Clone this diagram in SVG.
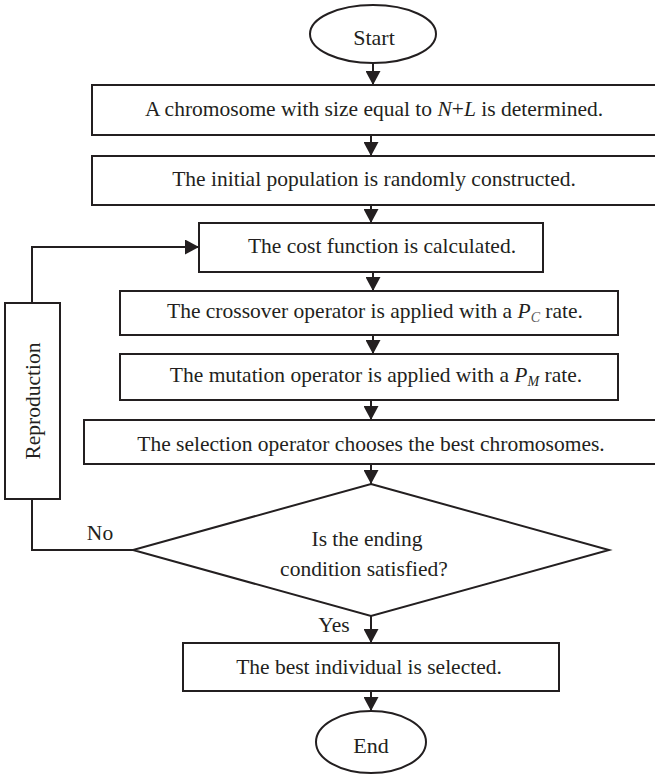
<svg xmlns="http://www.w3.org/2000/svg" width="655" height="777" viewBox="0 0 655 777">
<style>
.s{fill:#fff;stroke:#231f20;stroke-width:2}
.t{font-family:"Liberation Serif","Times New Roman",serif;font-size:21.5px;fill:#231f20;text-anchor:middle}
.i{font-style:italic}
.c{fill:none;stroke:#231f20;stroke-width:2}
</style>
<defs>
<marker id="ah" markerUnits="userSpaceOnUse" markerWidth="15" markerHeight="15" viewBox="0 0 14 15" refX="14" refY="7.5" orient="auto">
<path d="M0,0 L14,7.5 L0,15 z" fill="#231f20"/>
</marker>
</defs>
<rect width="655" height="777" fill="#fff"/>
<g id="connectors">
<path class="c" d="M373,63 V85" marker-end="url(#ah)"/>
<path class="c" d="M371,135 V156" marker-end="url(#ah)"/>
<path class="c" d="M371,205 V223" marker-end="url(#ah)"/>
<path class="c" d="M373,272 V291" marker-end="url(#ah)"/>
<path class="c" d="M373,335 V354" marker-end="url(#ah)"/>
<path class="c" d="M371,400 V420" marker-end="url(#ah)"/>
<path class="c" d="M371,464 V484" marker-end="url(#ah)"/>
<path class="c" d="M371,616 V643" marker-end="url(#ah)"/>
<path class="c" d="M371,691 V711" marker-end="url(#ah)"/>
<path class="c" d="M133,550 H32 V499"/>
<path class="c" d="M32,303 V247 H199" marker-end="url(#ah)"/>
<text class="t" x="100" y="540">No</text>
<text class="t" x="334" y="632">Yes</text>
</g>
<g id="start">
<ellipse class="s" cx="373" cy="34" rx="63" ry="29"/>
<text class="t" x="374" y="45" style="font-size:22px">Start</text>
</g>
<g id="chromosome">
<rect class="s" x="92" y="85" width="566" height="50"/>
<text class="t" x="374" y="116">A chromosome with size equal to <tspan class="i">N</tspan>+<tspan class="i">L</tspan> is determined.</text>
</g>
<g id="init">
<rect class="s" x="92" y="156" width="566" height="49"/>
<text class="t" x="374" y="186">The initial population is randomly constructed.</text>
</g>
<g id="cost">
<rect class="s" x="199" y="223" width="344" height="49"/>
<text class="t" x="382" y="253">The cost function is calculated.</text>
</g>
<g id="crossover">
<rect class="s" x="120" y="291" width="498" height="44"/>
<text class="t" x="375" y="318">The crossover operator is applied with a <tspan class="i">P</tspan><tspan class="i" font-size="14" dy="4" fill="#555">C</tspan><tspan dy="-4"> rate.</tspan></text>
</g>
<g id="mutation">
<rect class="s" x="120" y="354" width="498" height="46"/>
<text class="t" x="376" y="382">The mutation operator is applied with a <tspan class="i">P</tspan><tspan class="i" font-size="14" dy="4">M</tspan><tspan dy="-4"> rate.</tspan></text>
</g>
<g id="selection">
<rect class="s" x="84" y="420" width="574" height="44"/>
<text class="t" x="371" y="451">The selection operator chooses the best chromosomes.</text>
</g>
<g id="reproduction">
<rect class="s" x="5" y="303" width="55" height="196"/>
<text class="t" transform="translate(40,401) rotate(-90)" x="0" y="0">Reproduction</text>
</g>
<g id="decision">
<polygon class="s" points="371,484 609,550 371,616 133,550"/>
<text class="t" x="367" y="546">Is the ending</text>
<text class="t" x="364" y="576">condition satisfied?</text>
</g>
<g id="best">
<rect class="s" x="183" y="643" width="376" height="48"/>
<text class="t" x="369" y="674">The best individual is selected.</text>
</g>
<g id="end">
<ellipse class="s" cx="371" cy="742" rx="55" ry="31"/>
<text class="t" x="371" y="753" style="font-size:22px">End</text>
</g>
</svg>
